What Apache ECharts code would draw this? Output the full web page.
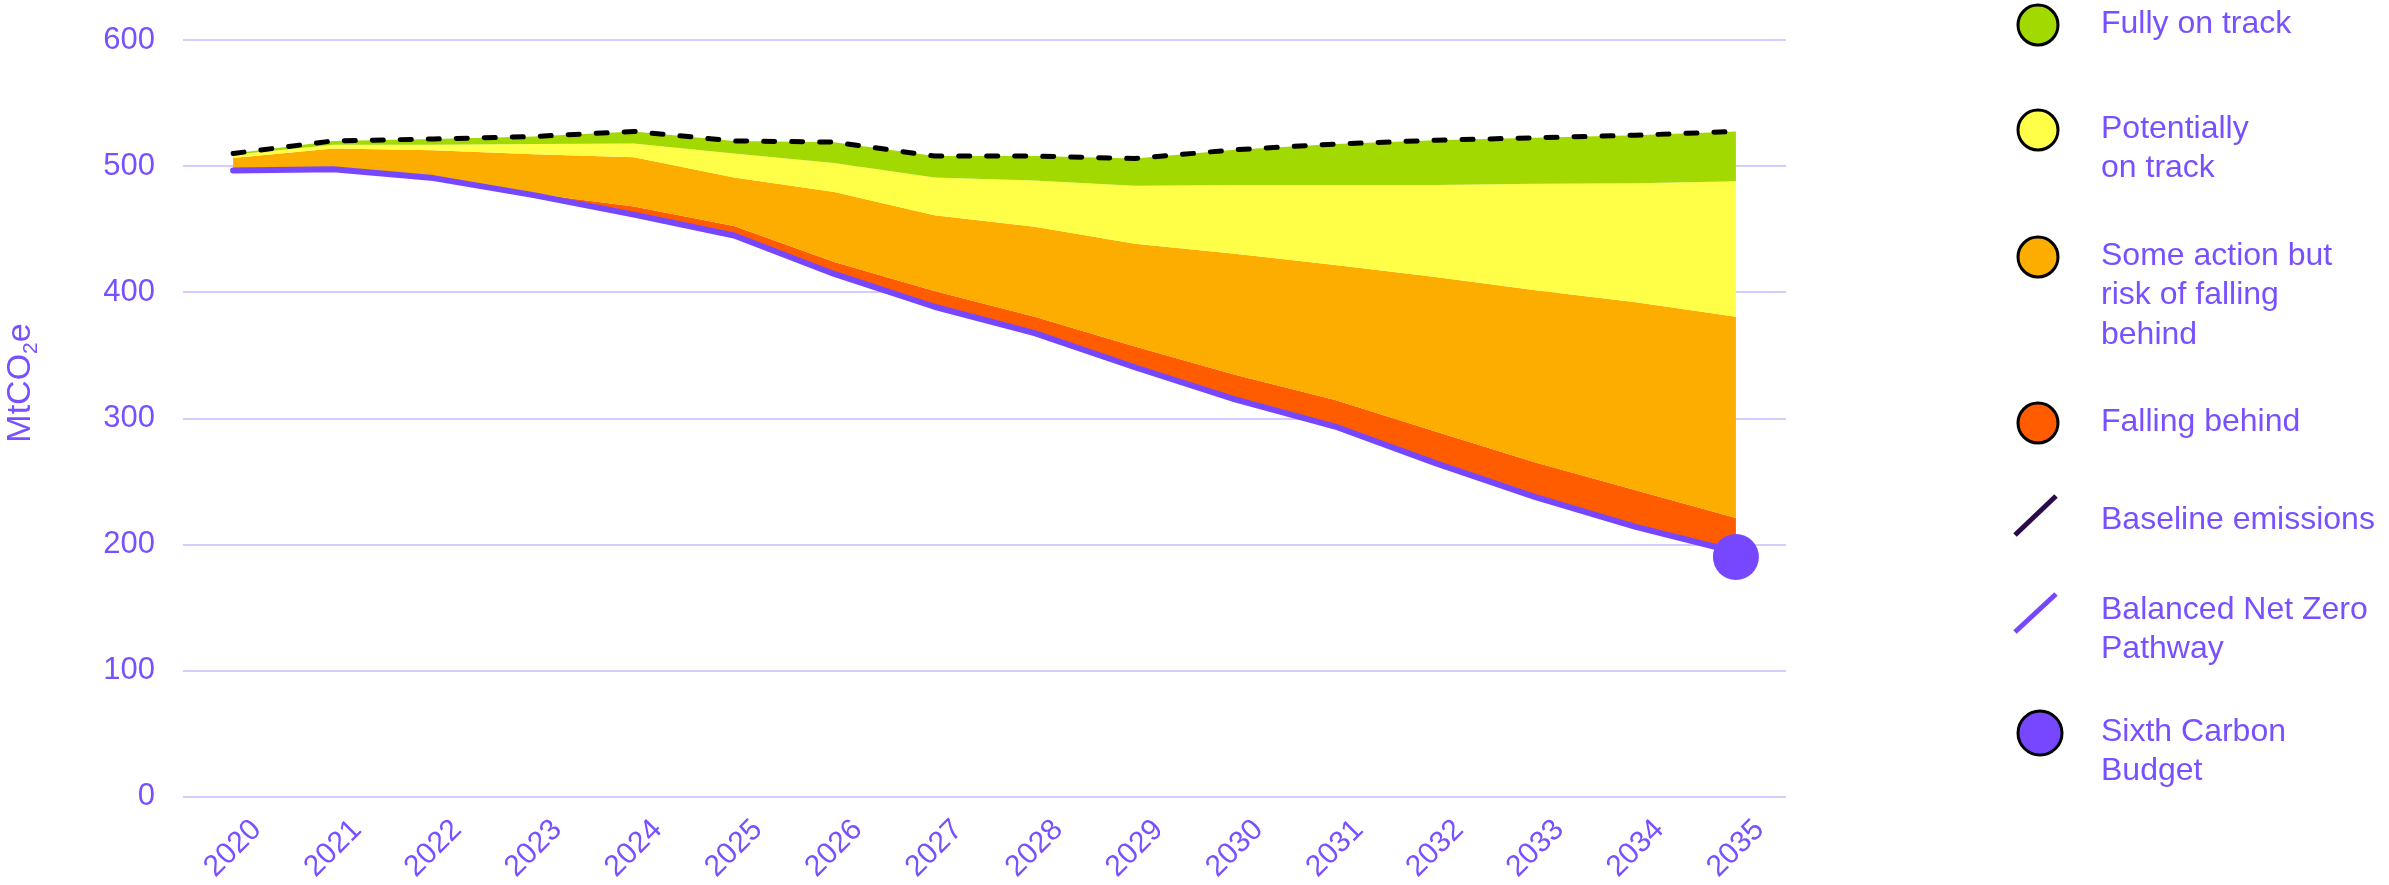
<!DOCTYPE html>
<html>
<head>
<meta charset="utf-8">
<script src="https://cdn.jsdelivr.net/npm/echarts@6/dist/echarts.min.js"></script>
<style>
html,body{margin:0;padding:0;background:#fff;}
#chart{width:2389px;height:885px;}
</style>
</head>
<body>
<div id="chart"></div>
<script>
// ---- data (MtCO2e) ----
const years = ['2020','2021','2022','2023','2024','2025','2026','2027','2028','2029','2030','2031','2032','2033','2034','2035'];
const yTicks = [0, 100, 200, 300, 400, 500, 600];
// Baseline emissions (top of green band)
const baseline = [510, 520, 521.5, 523.5, 527.5, 520, 519, 508, 508, 506, 513, 517.5, 520.5, 522.5, 524.5, 527.5];
// Top of "Potentially on track" band (= bottom of green)
const potentiallyTop = [509, 517, 517, 517.5, 518, 510, 502.5, 491, 488.5, 484.5, 485, 485, 485, 486, 486.5, 488];
// Top of "Some action but risk of falling behind" band
const someActionTop = [506.5, 514, 512.5, 509.5, 507, 491, 479.5, 461, 452, 438.5, 430.5, 421.5, 412, 401.5, 392, 380.5];
// Top of "Falling behind" band
const fallingTop = [497, 498.5, 491.5, 478, 468, 452.5, 424, 401, 380.5, 357, 334.5, 314.5, 289.5, 265, 243, 221];
// Balanced Net Zero Pathway
const pathway = [496.5, 497.5, 490.5, 477, 461.5, 445, 414.5, 388.5, 367.5, 340.5, 315, 293.5, 264.5, 237.5, 214, 194];
// Sixth Carbon Budget
const budgetYear = '2035';
const budgetValue = 190;

const legendNames = ['Fully on track', 'Potentially\non track', 'Some action but\nrisk of falling\nbehind', 'Falling behind', 'Baseline emissions', 'Balanced Net Zero\nPathway', 'Sixth Carbon\nBudget'];

// ---- styles ----
const PURPLE = '#7747FF';
const TEXT = '#7850FF';
const GREEN = '#A2D900';
const YELLOW = '#FFFF48';
const ORANGE = '#FDAC00';
const RED = '#FF5C00';
const DARK = '#2B0B4B';
const FONT = '"Liberation Sans", Arial, sans-serif';

const diff = (a, b) => a.map((v, i) => +(v - b[i]).toFixed(2));

const chart = echarts.init(document.getElementById('chart'), null, {renderer: 'canvas'});

function bandSeries(name, data, color) {
  return {
    name, type: 'line', stack: 'bands', data, symbol: 'none',
    lineStyle: {width: 0, opacity: 0}, areaStyle: {color, opacity: 1},
    silent: true, z: 2
  };
}

const legendY = [24, 129, 256, 422, 520, 610, 732];
const graphics = [];
const lh = 39.5;
const textX = 2101;
// circles
[[GREEN, 0], [YELLOW, 1], [ORANGE, 2], [RED, 3]].forEach(([c, i]) => {
  graphics.push({type: 'circle', shape: {cx: 2038, cy: legendY[i] + 1, r: 20}, style: {fill: c, stroke: '#000', lineWidth: 3}});
});
graphics.push({type: 'line', shape: {x1: 2015, y1: 535, x2: 2056, y2: 496}, style: {stroke: DARK, lineWidth: 5}});
graphics.push({type: 'line', shape: {x1: 2015, y1: 632, x2: 2056, y2: 594}, style: {stroke: PURPLE, lineWidth: 5}});
graphics.push({type: 'circle', shape: {cx: 2040, cy: 733, r: 22}, style: {fill: PURPLE, stroke: '#000', lineWidth: 3}});
legendNames.forEach((t, i) => {
  graphics.push({type: 'text', style: {text: t, x: textX, y: legendY[i] - lh / 2, fill: TEXT, fontSize: 32, fontFamily: FONT, lineHeight: lh, textVerticalAlign: 'top', textAlign: 'left'}});
});
// y-axis title
graphics.push({
  type: 'text', x: 21, y: 383, rotation: Math.PI / 2,
  style: {
    text: '{a|MtCO}{s|2}{a|e}', textAlign: 'center', textVerticalAlign: 'middle', fill: TEXT,
    rich: {
      a: {fontSize: 34, fontFamily: FONT, fill: TEXT, lineHeight: 42},
      s: {fontSize: 21, fontFamily: FONT, fill: TEXT, lineHeight: 23, verticalAlign: 'bottom'}
    }
  }
});

const option = {
  animation: false,
  backgroundColor: '#fff',
  grid: {left: 183, right: 603, top: 40, bottom: 87, containLabel: false},
  xAxis: {
    type: 'category', data: years, boundaryGap: true,
    axisLine: {show: false}, axisTick: {show: false},
    axisLabel: {rotate: 45, color: TEXT, fontSize: 30, fontFamily: FONT, margin: 52, interval: 0, align: 'center', verticalAlign: 'middle'}
  },
  yAxis: {
    type: 'value', min: yTicks[0], max: yTicks[yTicks.length - 1], interval: 100,
    axisLine: {show: false}, axisTick: {show: false},
    axisLabel: {color: TEXT, fontSize: 31, fontFamily: FONT, margin: 28},
    splitLine: {lineStyle: {color: '#D3CCFF', width: 2}}
  },
  graphic: graphics,
  series: [
    {name: 'base', type: 'line', stack: 'bands', data: pathway, symbol: 'none', lineStyle: {width: 0, opacity: 0}, silent: true, z: 2},
    bandSeries('Falling behind', diff(fallingTop, pathway), RED),
    bandSeries('Some action but risk of falling behind', diff(someActionTop, fallingTop), ORANGE),
    bandSeries('Potentially on track', diff(potentiallyTop, someActionTop), YELLOW),
    bandSeries('Fully on track', diff(baseline, potentiallyTop), GREEN),
    {
      name: 'Baseline emissions', type: 'line', data: baseline, symbol: 'none', z: 5,
      lineStyle: {color: '#000', width: 5, type: [11, 17], cap: 'round'}
    },
    {
      name: 'Balanced Net Zero Pathway', type: 'line', data: pathway, symbol: 'none', z: 6,
      lineStyle: {color: PURPLE, width: 6, cap: 'round', join: 'round'}
    },
    {
      name: 'Sixth Carbon Budget', type: 'scatter', data: [[budgetYear, budgetValue]], z: 7,
      symbol: 'circle', symbolSize: 46, itemStyle: {color: PURPLE, opacity: 1}
    }
  ]
};
chart.setOption(option);
</script>
</body>
</html>
